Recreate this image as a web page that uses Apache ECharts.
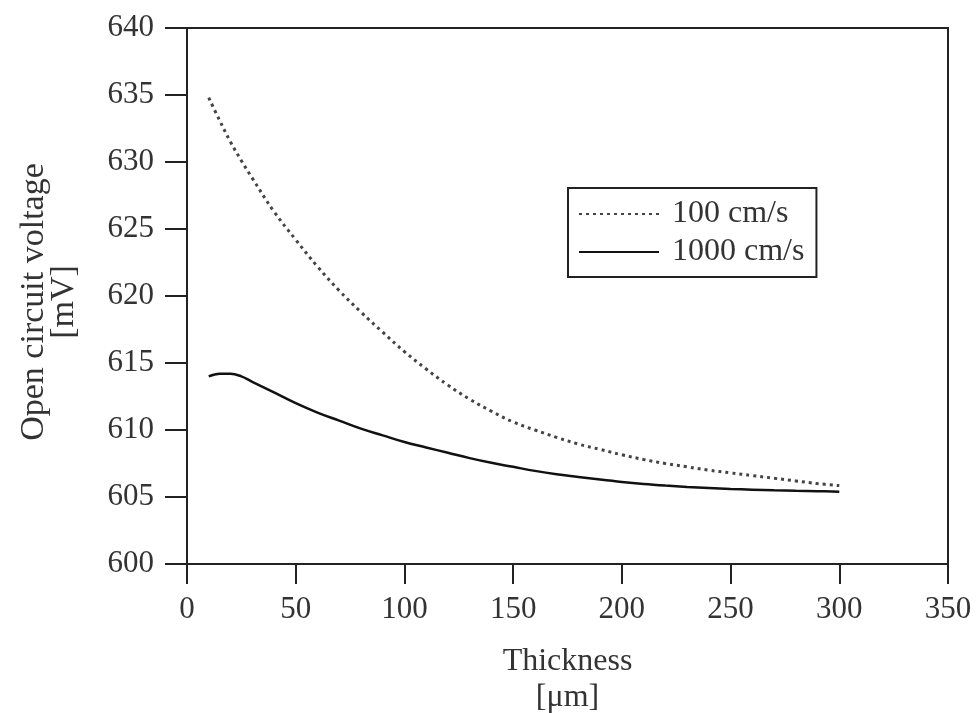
<!DOCTYPE html>
<html>
<head>
<meta charset="utf-8">
<script src="https://cdn.jsdelivr.net/npm/echarts@6/dist/echarts.min.js"></script>
<style>
  html, body { margin: 0; padding: 0; background: #fff; }
  #main { width: 980px; height: 713px; }
</style>
</head>
<body>
<div id="main"></div>
<script>
// thickness in µm
const thickness = [10, 15, 20, 25, 30, 40, 50, 60, 70, 80, 90, 100, 110, 120, 130, 140, 150,
  160, 170, 180, 190, 200, 210, 220, 230, 240, 250, 260, 270, 280, 290, 300]
// Voc [mV] for surface recombination velocity 100 cm/s
const voc100 = [634.8, 633.1, 631.5, 630.1, 628.8, 626.3, 624.2, 622.2, 620.4, 618.8, 617.3, 615.85,
  614.55, 613.35, 612.3, 611.4, 610.6, 610.0, 609.45, 608.95, 608.55, 608.15, 607.8, 607.5, 607.25,
  607.0, 606.8, 606.6, 606.4, 606.2, 606.0, 605.85]
// Voc [mV] for 1000 cm/s
const voc1000 = [614.0, 614.2, 614.2, 614.0, 613.6, 612.8, 612.0, 611.3, 610.7, 610.1, 609.6, 609.1,
  608.7, 608.3, 607.9, 607.55, 607.25, 606.95, 606.7, 606.5, 606.3, 606.12, 605.97, 605.85, 605.75,
  605.67, 605.6, 605.55, 605.5, 605.46, 605.43, 605.4]
const seriesNames = ['100 cm/s', '1000 cm/s']

const font = '"Liberation Serif", "DejaVu Serif", serif'
const pairs = (ys) => thickness.map((x, i) => [x, ys[i]])

var myChart = echarts.init(document.getElementById('main'))

var option = {
  backgroundColor: '#fff',
  animation: false,
  grid: {
    left: 187, right: 32, top: 28, bottom: 149,
    outerBoundsMode: 'none',
    containLabel: false,
    show: true, borderColor: '#222', borderWidth: 2
  },
  legend: {
    orient: 'vertical',
    left: 568, top: 188,
    data: seriesNames,
    itemWidth: 80, itemHeight: 14, itemGap: 6,
    padding: [10, 12, 9, 10],
    borderColor: '#222', borderWidth: 2, borderRadius: 0,
    itemStyle: { opacity: 0 },
    textStyle: { fontFamily: font, fontSize: 32, color: '#333', padding: [0, 0, 0, 8] }
  },
  xAxis: {
    type: 'value',
    min: 0, max: 350, interval: 50,
    name: 'Thickness\n[μm]',
    nameLocation: 'middle',
    nameGap: 80,
    nameTextStyle: { fontFamily: font, fontSize: 32, color: '#333', lineHeight: 36 },
    axisLine: { lineStyle: { color: '#222', width: 2 } },
    axisTick: { inside: false, length: 20, lineStyle: { color: '#222', width: 2 } },
    axisLabel: { fontFamily: font, fontSize: 31, color: '#333', margin: 30 },
    splitLine: { show: false }
  },
  yAxis: {
    type: 'value',
    min: 600, max: 640, interval: 5,
    name: 'Open circuit voltage\n[mV]',
    nameLocation: 'middle',
    nameGap: 108,
    nameTextStyle: { fontFamily: font, fontSize: 34, color: '#333', lineHeight: 30, padding: [0, 12, 0, 0] },
    axisLine: { lineStyle: { color: '#222', width: 2 } },
    axisTick: { inside: false, length: 22, lineStyle: { color: '#222', width: 2 } },
    axisLabel: { fontFamily: font, fontSize: 31, color: '#333', margin: 33 },
    splitLine: { show: false }
  },
  series: [
    {
      name: seriesNames[0],
      type: 'line',
      data: pairs(voc100),
      symbol: 'none',
      smooth: 0.4,
      lineStyle: { color: '#444', width: 3, type: [3, 4] }
    },
    {
      name: seriesNames[1],
      type: 'line',
      data: pairs(voc1000),
      symbol: 'none',
      smooth: 0.4,
      lineStyle: { color: '#111', width: 2.5, type: 'solid' }
    }
  ]
}

myChart.setOption(option)
window.onresize = function () {
  myChart.resize()
}
</script>
</body>
</html>
